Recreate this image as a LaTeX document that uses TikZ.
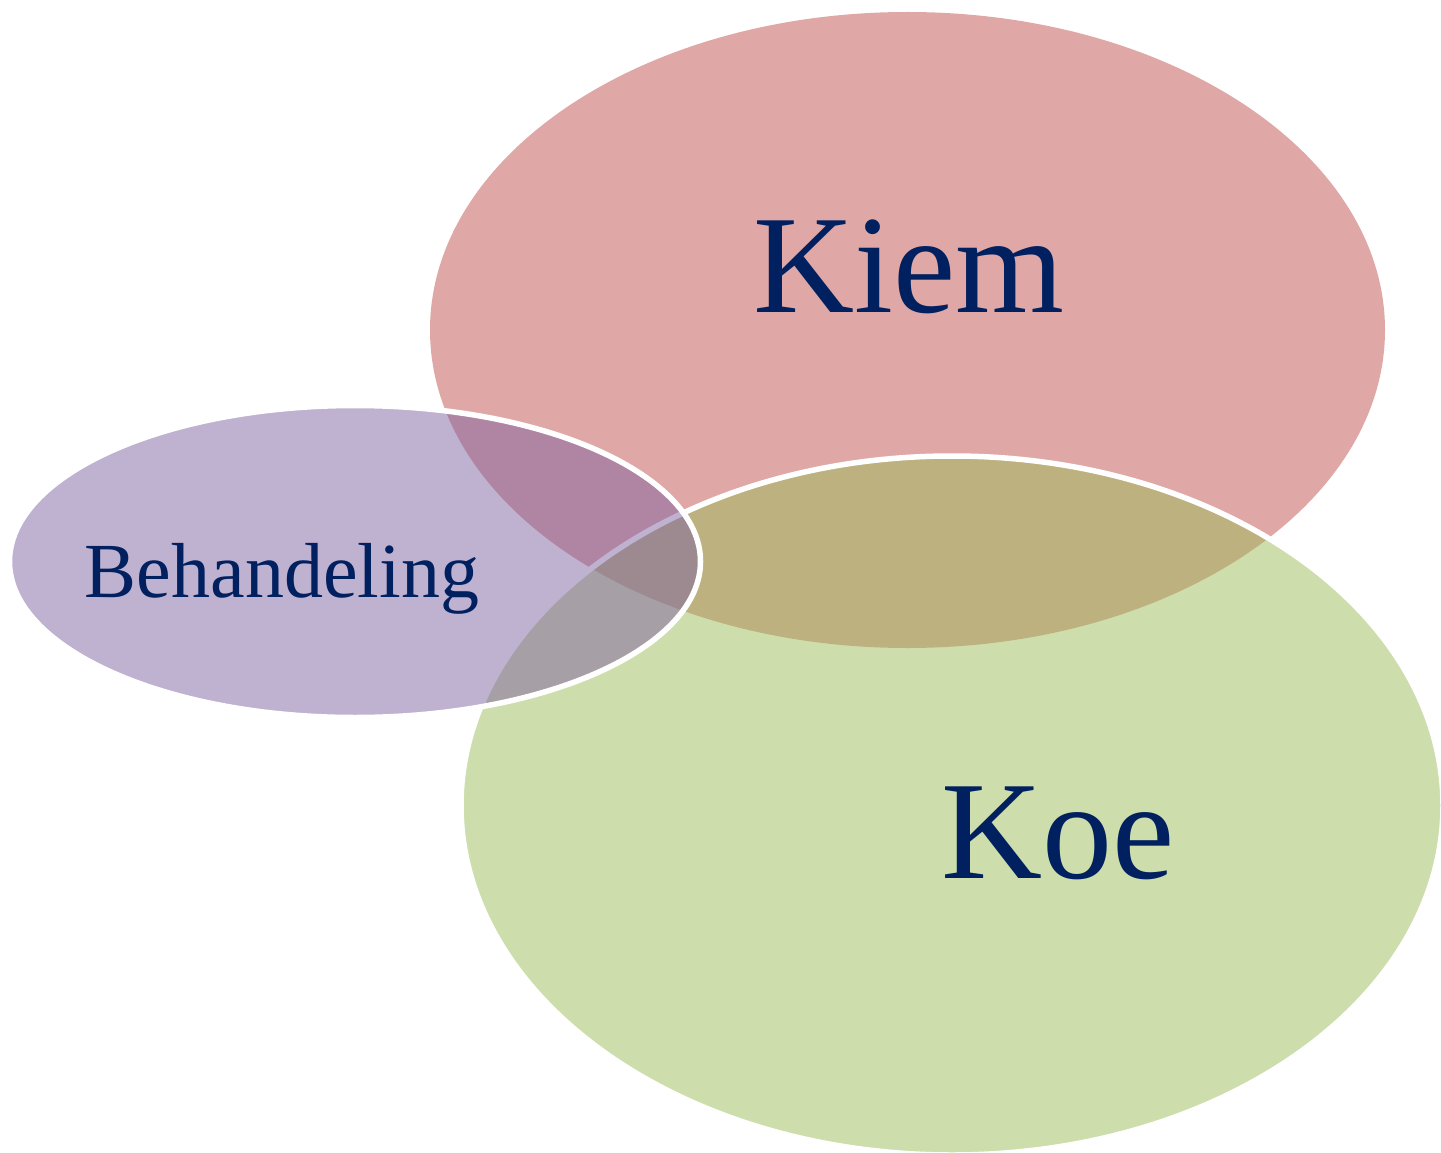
\documentclass[tikz,border=0pt]{standalone}
\usepackage{fontspec}
\setmainfont{Liberation Serif}
\definecolor{kiemred}{HTML}{C0504D}
\definecolor{koegreen}{HTML}{9BBB59}
\definecolor{behpurple}{HTML}{8064A2}
\definecolor{txtblue}{HTML}{002060}
\tikzset{
  blob/.style={fill opacity=0.5},
  rim/.style={draw=white, line width=5.5pt},
  lbl/.style={text=txtblue, anchor=base, inner sep=0pt}
}
\begin{document}
\begin{tikzpicture}[x=1pt,y=-1pt]
\useasboundingbox (0,0) rectangle (1441,1153);
% Kiem
\path[blob, fill=kiemred] (907.5,330) ellipse [x radius=477.5, y radius=318];
% Koe
\path[blob, fill=koegreen] (952,805.5) ellipse [x radius=491, y radius=349.5];
\draw[rim] (952,805.5) ellipse [x radius=491, y radius=349.5];
% Behandeling
\path[blob, fill=behpurple] (355,561.5) ellipse [x radius=345.5, y radius=156];
\draw[rim] (355,561.5) ellipse [x radius=345.5, y radius=156];
\node[lbl, font=\fontsize{140}{140}\selectfont] (kiem) at (909,312) {Kiem};
\node[lbl, font=\fontsize{140}{140}\selectfont] (koe) at (1058,878) {Koe};
\node[lbl, font=\fontsize{78}{78}\selectfont] (beh) at (282,597) {Behandeling};
\end{tikzpicture}
\end{document}
